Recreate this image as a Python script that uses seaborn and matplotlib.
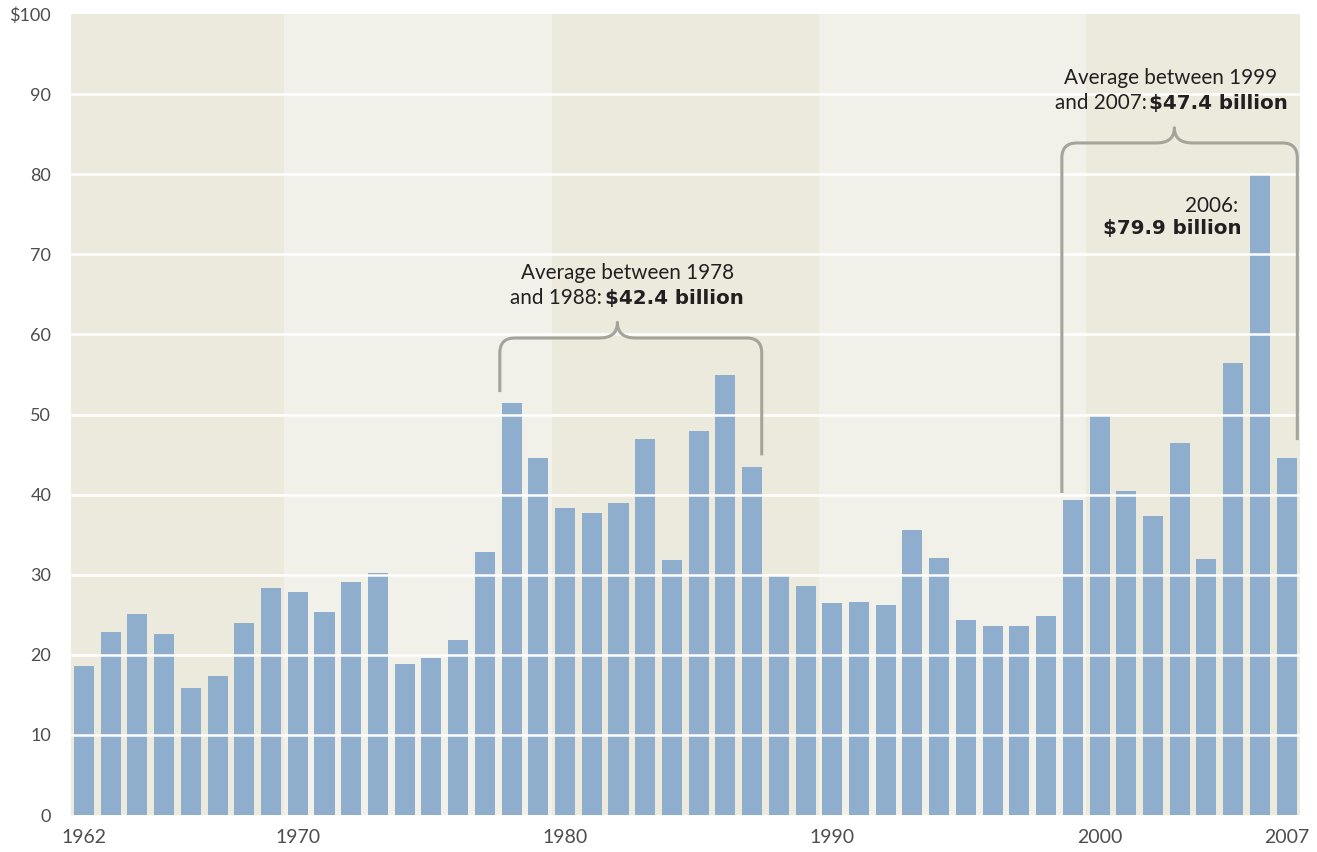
import numpy as np
import pandas as pd
import matplotlib
matplotlib.use("Agg")
import matplotlib.pyplot as plt
from matplotlib.path import Path
from matplotlib.patches import PathPatch, Rectangle
import seaborn as sns

# Annual values, billions of dollars
years = list(range(1962, 2008))
values = [
    18.6, 22.9, 25.1, 22.6, 15.9, 17.4, 24.0, 28.4,   # 1962-1969
    27.8, 25.4, 29.1, 30.2, 18.9, 19.6, 21.9, 32.8,   # 1970-1977
    51.4, 44.6, 38.3, 37.7, 39.0, 47.0, 31.8, 48.0,   # 1978-1985
    54.9, 43.5, 29.9, 28.6, 26.5, 26.6, 26.2, 35.6,   # 1986-1993
    32.1, 24.4, 23.6, 23.6, 24.9, 39.3, 49.9, 40.5,   # 1994-2001
    37.3, 46.4, 31.9, 56.4, 79.9, 44.6,               # 2002-2007
]
x_tick_years = [1962, 1970, 1980, 1990, 2000, 2007]
y_ticks = [0, 10, 20, 30, 40, 50, 60, 70, 80, 90, 100]
y_tick_labels = ["0", "10", "20", "30", "40", "50", "60", "70", "80", "90", "$100"]
decade_starts = [1962, 1970, 1980, 1990, 2000]

BAR = "#8FADCD"
BAND_DARK = "#ECE9DD"
BAND_LIGHT = "#F2F1E9"
BRACE = "#A5A49B"
INK = "#231F20"
TICK = "#4D4D4D"

sns.set_theme(style="white")
plt.rcParams["font.family"] = ["Lato", "DejaVu Sans"]

fig = plt.figure(figsize=(13.17, 8.52), dpi=100)
ax = fig.add_axes([70.6 / 1317, 37 / 852, (1300 - 70.6) / 1317, (815 - 14) / 852])

x0, x1 = years[0] - 0.5, years[-1] + 0.5
# alternating decade bands
for i, start in enumerate(decade_starts):
    end = decade_starts[i + 1] if i + 1 < len(decade_starts) else years[-1] + 1
    ax.add_patch(Rectangle((start - 0.5, 0), end - start, 100,
                           facecolor=BAND_DARK if i % 2 == 0 else BAND_LIGHT,
                           edgecolor="none", zorder=0))

df = pd.DataFrame({"year": years, "value": values})
sns.barplot(data=df, x="year", y="value", native_scale=True, width=0.75,
            color=BAR, saturation=1, linewidth=0, ax=ax, zorder=2)

for y in y_ticks[1:-1]:
    ax.axhline(y, color="white", lw=1.8, zorder=3)

ax.set_xlim(x0, x1)
ax.set_ylim(0, 100)
ax.set_xticks(x_tick_years)
ax.set_xticklabels([str(y) for y in x_tick_years])
ax.set_yticks(y_ticks)
ax.set_yticklabels(y_tick_labels)
ax.tick_params(axis="both", length=0, colors=TICK)
ax.tick_params(axis="y", pad=14, labelsize=13)
ax.tick_params(axis="x", pad=10, labelsize=14)
ax.set_xlabel("")
ax.set_ylabel("")
for s in ax.spines.values():
    s.set_visible(False)


def brace(ax, xl, xr, yl, yr, ybar, xtip, ytip, rx=0.56, ry=1.87, tw=0.67):
    verts = [
        (xl, yl), (xl, ybar - ry),
        (xl, ybar), (xl + rx, ybar),
        (xtip - tw, ybar),
        (xtip, ybar), (xtip, ytip),
        (xtip, ybar), (xtip + tw, ybar),
        (xr - rx, ybar),
        (xr, ybar), (xr, ybar - ry),
        (xr, yr),
    ]
    codes = [Path.MOVETO, Path.LINETO,
             Path.CURVE3, Path.CURVE3,
             Path.LINETO,
             Path.CURVE3, Path.CURVE3,
             Path.CURVE3, Path.CURVE3,
             Path.LINETO,
             Path.CURVE3, Path.CURVE3,
             Path.LINETO]
    ax.add_patch(PathPatch(Path(verts, codes), facecolor="none", edgecolor=BRACE,
                           lw=2.2, capstyle="butt", joinstyle="round", zorder=4))


brace(ax, 1977.56, 1987.36, 52.8, 44.9, 59.55, 1981.96, 61.5)
brace(ax, 1998.59, 2007.4, 40.2, 46.8, 83.9, 2002.8, 85.8)

fs = 14.9
bold = dict(fontsize=14.3, color=INK, fontweight="bold",
            family=["DejaVu Sans"], zorder=5)
plain = dict(fontsize=fs, color=INK, zorder=5)

# 1978-1988 average
ax.text(1982.35, 66.9, "Average between 1978", ha="center", va="baseline", **plain)
ax.text(1981.36, 63.8, "and 1988:", ha="right", va="baseline", **plain)
ax.text(1981.5, 63.8, "$42.4 billion", ha="left", va="baseline", **bold)

# 1999-2007 average
ax.text(2002.67, 91.26, "Average between 1999", ha="center", va="baseline", **plain)
ax.text(2001.76, 88.14, "and 2007:", ha="right", va="baseline", **plain)
ax.text(2001.85, 88.14, "$47.4 billion", ha="left", va="baseline", **bold)

# 2006 peak
ax.text(2005.2, 75.3, "2006:", ha="right", va="baseline", **plain)
ax.text(2005.32, 72.5, "$79.9 billion", ha="right", va="baseline", **bold)

fig.savefig("out.png", dpi=100, facecolor="white")
